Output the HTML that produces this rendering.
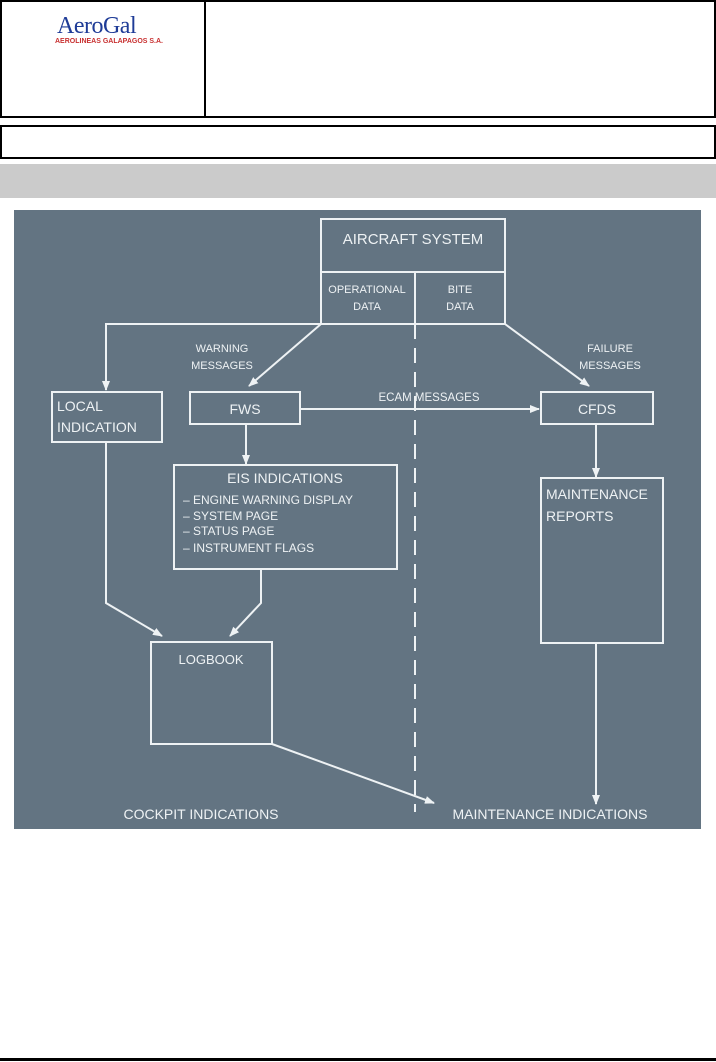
<!DOCTYPE html>
<html><head><meta charset="utf-8"><style>
html,body{margin:0;padding:0;background:#fff;}
body{width:716px;height:1062px;position:relative;overflow:hidden;font-family:"Liberation Sans",sans-serif;}
.abs{position:absolute;}
</style></head><body>
<div class="abs" style="left:0;top:0;width:712px;height:114px;border:2px solid #000;"></div>
<div class="abs" style="left:204px;top:0;width:2px;height:117px;background:#000;"></div>
<div class="abs" style="left:0;top:125px;width:712px;height:30px;border:2px solid #000;"></div>
<div class="abs" style="left:0;top:164px;width:716px;height:34px;background:#cbcbcb;"></div>
<div class="abs" style="left:57px;top:13px;font-family:'Liberation Serif',serif;font-size:24px;color:#1f3c97;letter-spacing:-0.5px;">AeroGal</div>
<div class="abs" style="left:55px;top:38px;font-size:7px;font-weight:bold;color:#c83030;white-space:nowrap;">AEROLINEAS GALAPAGOS S.A.</div>
<div class="abs" style="left:0;top:1058px;width:716px;height:3px;background:#000;"></div>
<svg class="abs" style="left:0;top:0" width="716" height="1062" xmlns="http://www.w3.org/2000/svg">
<defs><marker id="a" markerWidth="10" markerHeight="8" refX="9" refY="4" orient="auto" markerUnits="userSpaceOnUse"><path d="M0,0 L10,4 L0,8 Z" fill="#eef2f4"/></marker></defs>
<rect x="14" y="210" width="687" height="619" fill="#637482"/>
<g stroke="#eef2f4" stroke-width="2" fill="none">
<rect x="321" y="219" width="184" height="105"/>
<line x1="321" y1="272" x2="505" y2="272"/>
<line x1="415" y1="272" x2="415" y2="324"/>
<line x1="415" y1="324" x2="415" y2="812" stroke-dasharray="15,9"/>
<polyline points="321,324 106,324 106,390" marker-end="url(#a)"/>
<line x1="321" y1="324" x2="249" y2="386" marker-end="url(#a)"/>
<line x1="505" y1="324" x2="589" y2="386" marker-end="url(#a)"/>
<rect x="52" y="392" width="110" height="50"/>
<rect x="190" y="392" width="110" height="32"/>
<rect x="541" y="392" width="112" height="32"/>
<line x1="300" y1="409" x2="539" y2="409" marker-end="url(#a)"/>
<line x1="246" y1="424" x2="246" y2="464" marker-end="url(#a)"/>
<rect x="174" y="465" width="223" height="104"/>
<line x1="596" y1="424" x2="596" y2="477" marker-end="url(#a)"/>
<rect x="541" y="478" width="122" height="165"/>
<polyline points="106,442 106,603 162,636" marker-end="url(#a)"/>
<polyline points="261,569 261,603 230,636" marker-end="url(#a)"/>
<rect x="151" y="642" width="121" height="102"/>
<line x1="272" y1="744" x2="434" y2="803" marker-end="url(#a)"/>
<line x1="596" y1="643" x2="596" y2="804" marker-end="url(#a)"/>
</g>
<g fill="#eef2f4" font-family="Liberation Sans, sans-serif">
<text x="413" y="244" font-size="15" text-anchor="middle">AIRCRAFT SYSTEM</text>
<text x="367" y="293" font-size="11" text-anchor="middle">OPERATIONAL</text>
<text x="367" y="310" font-size="11" text-anchor="middle">DATA</text>
<text x="460" y="293" font-size="11" text-anchor="middle">BITE</text>
<text x="460" y="310" font-size="11" text-anchor="middle">DATA</text>
<text x="222" y="352" font-size="11" text-anchor="middle">WARNING</text>
<text x="222" y="369" font-size="11" text-anchor="middle">MESSAGES</text>
<text x="610" y="352" font-size="11" text-anchor="middle">FAILURE</text>
<text x="610" y="369" font-size="11" text-anchor="middle">MESSAGES</text>
<text x="57" y="411" font-size="14">LOCAL</text>
<text x="57" y="432" font-size="14">INDICATION</text>
<text x="245" y="414" font-size="14" text-anchor="middle">FWS</text>
<text x="597" y="414" font-size="14" text-anchor="middle">CFDS</text>
<text x="429" y="401" font-size="11.5" text-anchor="middle">ECAM MESSAGES</text>
<text x="285" y="483" font-size="14" text-anchor="middle">EIS INDICATIONS</text>
<text x="183" y="504" font-size="12">– ENGINE WARNING DISPLAY</text>
<text x="183" y="520" font-size="12">– SYSTEM PAGE</text>
<text x="183" y="535" font-size="12">– STATUS PAGE</text>
<text x="183" y="552" font-size="12">– INSTRUMENT FLAGS</text>
<text x="546" y="499" font-size="14">MAINTENANCE</text>
<text x="546" y="521" font-size="14">REPORTS</text>
<text x="211" y="664" font-size="13" text-anchor="middle">LOGBOOK</text>
<text x="201" y="819" font-size="14" text-anchor="middle">COCKPIT INDICATIONS</text>
<text x="550" y="819" font-size="14" text-anchor="middle">MAINTENANCE INDICATIONS</text>
</g>
</svg>
</body></html>
